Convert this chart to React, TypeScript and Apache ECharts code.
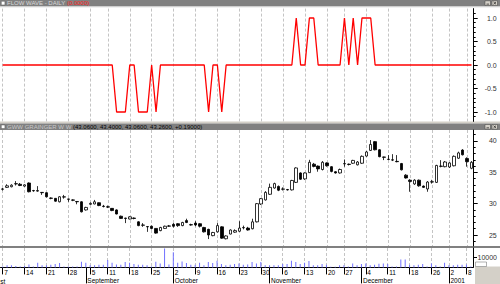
import React, { useEffect, useRef } from 'react';
import * as echarts from 'echarts';

const FONT = 'Liberation Sans, Arial, sans-serif';

const START_DATE = '2000-08-07';
const END_DATE = '2001-01-09';
const HOLIDAYS = ['2000-09-04', '2000-11-23', '2000-12-25', '2001-01-01'];
const MONTH_NAMES = ['January', 'February', 'March', 'April', 'May', 'June', 'July', 'August', 'September', 'October', 'November', 'December'];
// the August label is cut by the left edge in the reference: only its tail shows
const FIRST_MONTH_TAIL = 'st';

function buildTradingDays(start: string, end: string, holidays: string[]): string[] {
  const out: string[] = [];
  const d = new Date(start + 'T00:00:00Z');
  const e = new Date(end + 'T00:00:00Z');
  while (d <= e) {
    const wd = d.getUTCDay();
    const s = d.toISOString().slice(0, 10);
    if (wd !== 0 && wd !== 6 && holidays.indexOf(s) < 0) out.push(s);
    d.setUTCDate(d.getUTCDate() + 1);
  }
  return out;
}

const dates = buildTradingDays(START_DATE, END_DATE, HOLIDAYS);

// Flow Wave indicator (top panel)
const flowWave = [
  0, 0, 0, 0, 0, 0, 0, 0, 0, 0,
  0, 0, 0, 0, 0, 0, 0, 0, 0, 0,
  0, 0, 0, 0, 0, 0, -1, -1, -1, 0,
  0, -1, -1, -1, 0, -1, 0, 0, 0, 0,
  0, 0, 0, 0, 0, 0, 0, -1, 0, 0,
  -1, 0, 0, 0, 0, 0, 0, 0, 0, 0,
  0, 0, 0, 0, 0, 0, 0, 1, 0, 0,
  1, 1, 0, 0, 0, 0, 0, 0, 1, 0,
  1, 0, 1, 1, 1, 0, 0, 0, 0, 0,
  0, 0, 0, 0, 0, 0, 0, 0, 0, 0,
  0, 0, 0, 0, 0, 0, 0, 0,
];

const opens = [
  32.3, 32.6, 32.7, 33.15, 33.1, 32.8, 33.3, 32.1, 32.0, 31.8,
  31.75, 30.9, 30.85, 30.3, 31.05, 30.75, 30.6, 30.35, 30.3, 29.0,
  29.9, 29.95, 30.15, 29.6, 29.5, 29.25, 29.0, 28.0, 27.7, 27.55,
  27.7, 27.1, 26.55, 26.35, 26.4, 26.05, 25.7, 26.05, 26.4, 26.7,
  26.8, 26.5, 27.3, 26.65, 26.9, 26.8, 26.2, 25.9, 24.9, 25.5,
  26.3, 24.4, 25.15, 25.45, 25.6, 26.15, 26.1, 26.0, 27.1, 29.95,
  30.6, 31.5, 32.5, 32.75, 32.3, 32.25, 32.2, 33.4, 34.9, 33.95,
  34.95, 36.3, 36.0, 35.45, 36.5, 35.9, 35.1, 34.9, 36.35, 36.3,
  36.45, 36.2, 36.45, 37.6, 38.5, 39.9, 38.6, 37.45, 37.05, 37.0,
  36.75, 36.4, 34.55, 33.75, 33.15, 33.75, 32.8, 32.35, 33.45, 33.4,
  35.95, 35.9, 35.85, 36.05, 37.25, 38.55, 37.2, 35.65,
];
const closes = [
  32.35, 32.85, 32.95, 33.2, 32.9, 33.0, 31.9, 32.05, 32.1, 31.75,
  31.1, 30.85, 30.4, 31.1, 31.1, 30.7, 30.55, 30.3, 28.7, 29.4,
  30.05, 30.3, 29.7, 29.55, 29.45, 28.9, 28.35, 27.65, 27.65, 27.9,
  27.65, 26.5, 26.6, 26.3, 26.05, 25.3, 26.2, 26.4, 26.45, 26.4,
  26.5, 27.0, 27.0, 26.6, 26.6, 26.4, 25.5, 25.0, 25.4, 26.5,
  24.5, 24.85, 25.8, 25.7, 26.1, 26.2, 25.8, 27.1, 30.0, 30.8,
  31.8, 32.6, 33.2, 32.15, 32.35, 32.2, 33.7, 35.7, 33.9, 34.9,
  36.6, 35.95, 35.55, 36.6, 36.05, 35.15, 34.9, 35.45, 36.4, 36.25,
  36.9, 36.65, 37.55, 38.25, 39.45, 38.6, 37.5, 37.4, 37.1, 36.95,
  36.7, 35.4, 34.1, 33.55, 33.75, 32.85, 32.6, 33.45, 33.5, 36.1,
  36.0, 36.65, 36.5, 37.55, 38.1, 37.8, 36.7, 36.6,
];
const lows = [
  32.1, 32.5, 32.6, 32.9, 32.8, 32.7, 31.8, 31.9, 31.9, 31.4,
  31.0, 30.7, 30.3, 30.2, 30.8, 30.3, 30.4, 29.9, 28.6, 28.9,
  29.8, 29.9, 29.6, 29.4, 29.3, 28.8, 28.3, 27.6, 26.9, 27.5,
  27.5, 26.4, 26.3, 25.5, 25.9, 25.2, 25.6, 26.0, 26.3, 26.2,
  26.3, 26.4, 26.9, 26.5, 26.4, 26.2, 25.4, 24.35, 24.8, 25.4,
  24.4, 24.3, 25.1, 25.35, 25.5, 25.9, 25.7, 25.9, 27.0, 29.8,
  30.5, 31.4, 32.4, 32.0, 32.1, 32.1, 32.1, 33.3, 33.8, 33.8,
  34.9, 35.8, 35.1, 35.3, 35.9, 35.0, 34.8, 34.8, 35.9, 36.1,
  36.35, 36.1, 36.35, 37.5, 38.4, 38.5, 37.4, 36.95, 36.95, 36.8,
  36.6, 35.3, 34.0, 31.9, 33.0, 32.7, 32.5, 31.9, 33.2, 33.3,
  35.8, 35.8, 35.7, 35.95, 37.15, 37.7, 35.9, 35.5,
];
const highs = [
  32.5, 33.1, 33.1, 33.6, 33.3, 33.1, 33.4, 32.2, 32.8, 31.85,
  31.8, 31.0, 30.9, 31.2, 31.4, 30.8, 30.7, 30.4, 30.4, 29.5,
  30.2, 30.6, 30.2, 29.8, 29.7, 29.3, 29.1, 28.1, 27.75, 28.0,
  27.8, 27.2, 26.9, 26.4, 26.5, 26.1, 26.3, 26.5, 26.6, 26.9,
  26.9, 27.1, 27.6, 26.8, 27.2, 26.9, 26.3, 26.0, 25.5, 26.9,
  26.4, 24.95, 25.9, 25.9, 27.2, 26.5, 26.3, 27.6, 30.1, 30.9,
  32.0, 33.2, 33.35, 32.9, 32.6, 32.35, 33.8, 35.8, 35.0, 35.0,
  37.0, 36.5, 36.1, 36.8, 36.6, 36.0, 35.2, 35.6, 37.05, 36.4,
  37.0, 36.8, 37.7, 38.4, 40.15, 40.0, 38.7, 37.5, 37.75, 37.9,
  37.75, 36.5, 34.7, 33.9, 33.9, 33.85, 32.9, 33.6, 33.8, 36.2,
  36.95, 36.8, 36.6, 37.7, 38.3, 38.7, 37.4, 36.8,
];

const volumes = [
  800, 2100, 2100, 1400, 1000, 1400, 3100, 1000, 4800, 2100,
  2100, 2700, 3400, 4500, 1000, 1000, 1000, 1000, 5800, 4800,
  2100, 2100, 2700, 2700, 7600, 4800, 3100, 2700, 5500, 4800,
  3400, 2700, 2700, 2100, 1000, 5800, 4100, 19600, 3100, 15500,
  4800, 6200, 4500, 2700, 2700, 4800, 2100, 5500, 4500, 6900,
  3400, 2100, 2700, 3400, 4100, 2700, 3100, 5500, 4100, 5500,
  2100, 2100, 2100, 2100, 3400, 3400, 6900, 5500, 3400, 4800,
  6500, 2100, 2100, 3400, 2700, 700, 700, 2100, 2100, 1000,
  4100, 2100, 3400, 4100, 2100, 2700, 3800, 4100, 3400, 1000,
  1000, 8200, 8200, 2700, 2100, 2700, 3400, 1000, 4100, 2100,
  1000, 4800, 2100, 2100, 2700, 2700, 3100, 1000,
];

const topLabels = [-1, -0.5, 0, 0.5, 1];
const topMinor = [-1.1, -0.9, -0.8, -0.7, -0.6, -0.4, -0.3, -0.2, -0.1, 0.1, 0.2, 0.3, 0.4, 0.6, 0.7, 0.8, 0.9, 1.1];
const priceLabels = [25, 30, 35, 40];
const priceMinor = [24, 26, 27, 28, 29, 31, 32, 33, 34, 36, 37, 38, 39, 41];
const volLabels = [10000];

const TOP_TITLE = 'FLOW WAVE - DAILY';
const TOP_VALUE = '(0.0000)';
const MID_TITLE = 'GWW GRAINGER W W';
const MID_VALUE = '(43.0600, 43.4000, 43.0600, 43.2600, +0.19000)';

const wd = (s: string) => new Date(s + 'T00:00:00Z').getUTCDay();
const mo = (s: string) => new Date(s + 'T00:00:00Z').getUTCMonth();
const isWeekStart = (i: number) => i === 0 || wd(dates[i]) < wd(dates[i - 1]);
const isMonthStart = (i: number) => i > 0 && mo(dates[i]) !== mo(dates[i - 1]);

const GRID_LEFT = 0.5;
const GRID_W = 473.2;

const dash = { color: '#c4c4c4', type: [3, 2] as any, width: 1 };

function hiddenX(gridIndex: number) {
  return {
    type: 'category', gridIndex, data: dates,
    axisLine: { show: false }, axisTick: { show: false }, axisLabel: { show: false },
    splitLine: { show: true, interval: (i: number) => isWeekStart(i), alignWithLabel: true, lineStyle: dash },
  };
}

function rightAxis(gridIndex: number, min: number, max: number, labels: number[], fmt: (v: number) => string, margin: number) {
  return {
    type: 'value', gridIndex, position: 'right', min, max,
    axisLine: { show: true, lineStyle: { color: '#000', width: 1 } },
    axisTick: { show: true, customValues: labels, length: 4, lineStyle: { color: '#000' } },
    axisLabel: { customValues: labels, formatter: fmt, align: 'right', margin, fontSize: 7, color: '#333', fontFamily: FONT },
    splitLine: { show: false },
  };
}
function minorAxis(gridIndex: number, min: number, max: number, ticks: number[]) {
  return {
    type: 'value', gridIndex, position: 'right', min, max,
    axisLine: { show: false },
    axisTick: { show: true, customValues: ticks, length: 2, lineStyle: { color: '#000' } },
    axisLabel: { show: false },
    splitLine: { show: false },
  };
}

function headerButtons(y: number) {
  return [
    { type: 'rect', shape: { x: 485, y, width: 5.5, height: 4.6 }, style: { fill: '#d4d0c8', stroke: '#404040', lineWidth: 0.5 } },
    { type: 'rect', shape: { x: 492, y, width: 5.5, height: 4.6 }, style: { fill: '#d4d0c8', stroke: '#404040', lineWidth: 0.5 } },
    { type: 'line', shape: { x1: 486.5, y1: y + 3.3, x2: 489, y2: y + 3.3 }, style: { stroke: '#000', lineWidth: 0.6 } },
    { type: 'line', shape: { x1: 493.5, y1: y + 1.2, x2: 496, y2: y + 3.4 }, style: { stroke: '#000', lineWidth: 0.6 } },
    { type: 'line', shape: { x1: 496, y1: y + 1.2, x2: 493.5, y2: y + 3.4 }, style: { stroke: '#000', lineWidth: 0.6 } },
  ];
}

const option: any = {
  animation: false,
  backgroundColor: '#ffffff',
  grid: [
    { left: GRID_LEFT, top: 8.6, width: GRID_W, height: 112.8 },
    { left: GRID_LEFT, top: 130, width: GRID_W, height: 116 },
    { left: GRID_LEFT, top: 248, width: GRID_W, height: 20 },
  ],
  xAxis: [
    hiddenX(0),
    hiddenX(1),
    {
      type: 'category', gridIndex: 2, position: 'bottom', data: dates,
      axisLine: { show: true, lineStyle: { color: '#000', width: 1 } },
      axisTick: { show: true, alignWithLabel: true, interval: (i: number) => isWeekStart(i), length: 7, lineStyle: { color: '#000' } },
      axisLabel: {
        interval: (i: number) => isWeekStart(i),
        formatter: (v: string) => String(new Date(v + 'T00:00:00Z').getUTCDate()),
        align: 'left', margin: 1.2, padding: [0, 0, 0, 1.5], fontSize: 6.5, color: '#000', fontFamily: FONT,
      },
      splitLine: { show: true, interval: (i: number) => isWeekStart(i), alignWithLabel: true, lineStyle: dash },
    },
    {
      type: 'category', gridIndex: 2, position: 'bottom', data: dates,
      axisLine: { show: false },
      axisTick: { show: true, alignWithLabel: true, interval: (i: number) => isMonthStart(i), length: 16, lineStyle: { color: '#000' } },
      axisLabel: {
        interval: (i: number) => isMonthStart(i),
        formatter: (v: string) => {
          const m = mo(v);
          return m === 0 ? String(new Date(v + 'T00:00:00Z').getUTCFullYear()) : MONTH_NAMES[m];
        },
        align: 'left', margin: 9.6, padding: [0, 0, 0, 1.5], fontSize: 6.5, color: '#000', fontFamily: FONT,
      },
      splitLine: { show: false },
    },
  ],
  yAxis: [
    rightAxis(0, -1.2, 1.2, topLabels, (v: number) => v.toFixed(1), 23),
    minorAxis(0, -1.2, 1.2, topMinor),
    rightAxis(1, 23.245, 41.755, priceLabels, (v: number) => String(v), 23),
    minorAxis(1, 23.245, 41.755, priceMinor),
    rightAxis(2, 0, 20000, volLabels, (v: number) => String(v), 24),
  ],
  series: [
    {
      type: 'line', xAxisIndex: 0, yAxisIndex: 0, data: flowWave, symbol: 'none',
      lineStyle: { color: '#ff0000', width: 1.3 }, silent: true,
    },
    {
      type: 'candlestick', xAxisIndex: 1, yAxisIndex: 2,
      data: dates.map((_, i) => [opens[i], closes[i], lows[i], highs[i]]),
      barWidth: 3,
      itemStyle: { color: '#ffffff', color0: '#000000', borderColor: '#000000', borderColor0: '#000000', borderWidth: 0.8 },
      silent: true,
    },
    {
      type: 'bar', xAxisIndex: 2, yAxisIndex: 4, data: volumes, barWidth: 1,
      itemStyle: { color: '#7070ff' }, silent: true,
    },
  ],
  graphic: [
    { type: 'rect', shape: { x: 0, y: 0, width: 500, height: 6.2 }, style: { fill: '#808080' } },
    { type: 'rect', shape: { x: 0, y: 6.2, width: 500, height: 1 }, style: { fill: '#c8c8c8' } },
    { type: 'rect', shape: { x: 1.3, y: 1.3, width: 3.6, height: 3.6 }, style: { fill: '#ffffff', stroke: '#404040', lineWidth: 0.4 } },
    {
      type: 'text', x: 7, y: 3.3,
      style: {
        text: '{a|' + TOP_TITLE + ' }{b|' + TOP_VALUE + '}', verticalAlign: 'middle',
        rich: { a: { fontSize: 6, fill: '#d8d8d8', fontFamily: FONT }, b: { fontSize: 6, fill: '#ff2020', fontFamily: FONT } },
      },
    },
    ...headerButtons(0.8),
    { type: 'rect', shape: { x: 0, y: 121.5, width: 500, height: 2 }, style: { fill: '#d4d0c8' } },
    { type: 'rect', shape: { x: 0, y: 123.5, width: 500, height: 6.5 }, style: { fill: '#808080' } },
    { type: 'rect', shape: { x: 1.3, y: 125, width: 3.6, height: 3.6 }, style: { fill: '#ffffff', stroke: '#404040', lineWidth: 0.4 } },
    {
      type: 'text', x: 7, y: 126.9,
      style: {
        text: '{a|' + MID_TITLE + ' }{b|' + MID_VALUE + '}', verticalAlign: 'middle',
        rich: { a: { fontSize: 6, fill: '#c8c8c8', fontFamily: FONT }, b: { fontSize: 6, fill: '#000000', fontFamily: FONT } },
      },
    },
    ...headerButtons(124.5),
    { type: 'rect', shape: { x: 0, y: 246, width: 500, height: 2 }, style: { fill: '#808080' } },
    { type: 'rect', shape: { x: 475, y: 266.5, width: 25, height: 17.5 }, style: { fill: '#d4d0c8' } },
    { type: 'rect', shape: { x: 475.5, y: 262, width: 11, height: 4.5 }, style: { fill: '#ffffff', stroke: '#606060', lineWidth: 0.5 } },
    {
      type: 'text', x: 0.3, y: 281,
      style: { text: FIRST_MONTH_TAIL, align: 'left', verticalAlign: 'middle', fontSize: 6.5, fill: '#000', fontFamily: FONT },
    },
  ],
};

export default function App() {
  const ref = useRef<HTMLDivElement>(null);
  useEffect(() => {
    if (!ref.current) return;
    const chart = echarts.init(ref.current, null, { renderer: 'svg' });
    chart.setOption(option);
    return () => chart.dispose();
  }, []);
  return (
    <div
      ref={ref}
      style={{ position: 'absolute', left: 0, top: 0, width: 500, height: 284, background: '#ffffff' }}
    />
  );
}
